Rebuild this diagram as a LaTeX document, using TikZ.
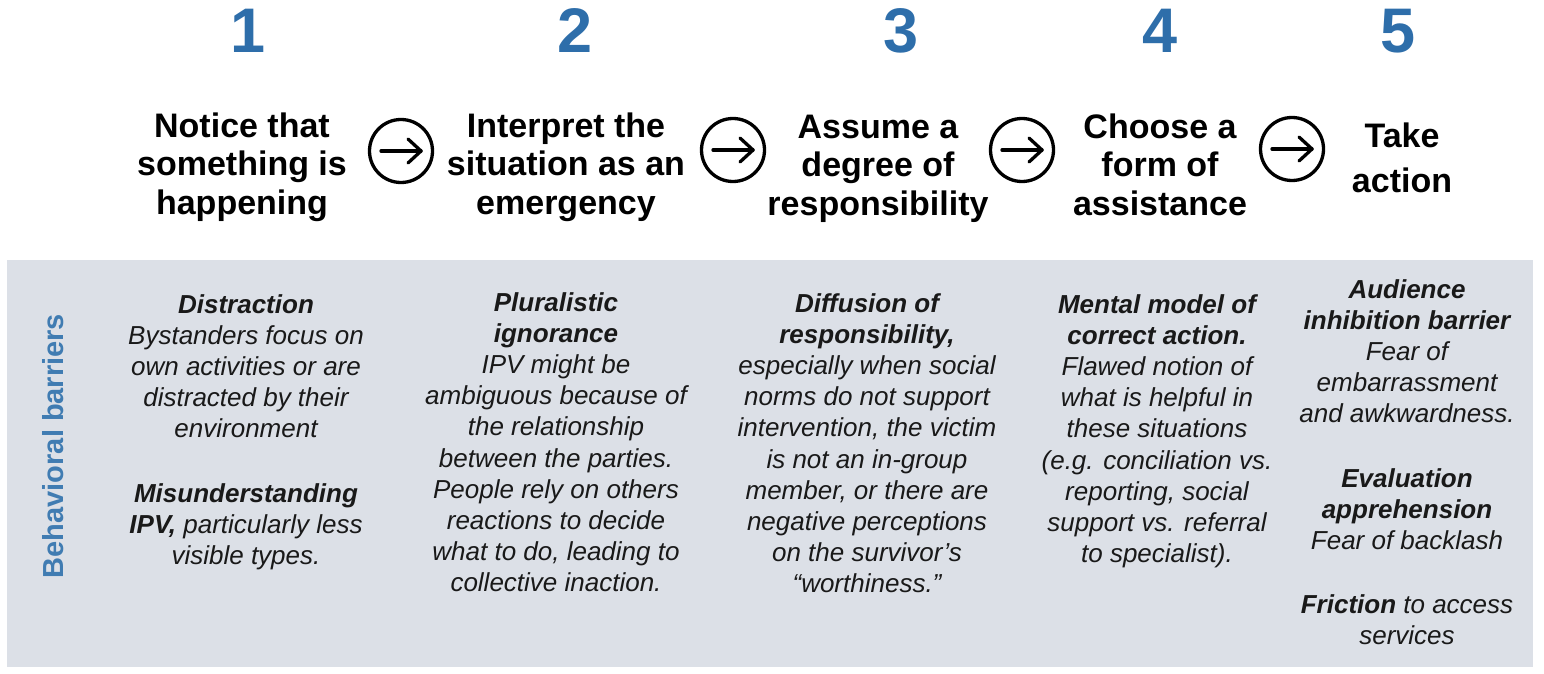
\documentclass[tikz,border=0pt]{standalone}
\usepackage{fontspec}
\setmainfont{Liberation Sans}
\definecolor{numblue}{RGB}{46,110,170}
\definecolor{lblblue}{RGB}{64,124,178}
\definecolor{panel}{RGB}{220,224,231}
\definecolor{bodytext}{RGB}{25,25,25}
\begin{document}
\begin{tikzpicture}[x=1pt,y=-1pt,
  num/.style={anchor=base,inner sep=0pt,text=numblue,font=\fontsize{63}{70}\selectfont\bfseries},
  head/.style={anchor=north,inner sep=0pt,align=center,text=black,font=\fontsize{34}{38.5}\selectfont\bfseries},
  body/.style={anchor=north,inner sep=0pt,align=center,text=bodytext,font=\fontsize{26}{31.2}\selectfont\itshape},
  flow/.style={circle,draw=black,line width=3.3pt,minimum size=63pt,inner sep=0pt},
  flowarrow/.style={line width=3.3pt,line cap=round,line join=round}
]
\useasboundingbox (0,0) rectangle (1544,674);
\fill[panel] (7,260) rectangle (1533,667);
\node[rotate=90,anchor=base,inner sep=0pt,text=lblblue,font=\fontsize{29}{34}\selectfont\bfseries] (lbl) at (63,446) {Behavioral barriers};

% numbers
\node[num] (n1) at (248,53) {1};
\node[num] (n2) at (575,53) {2};
\node[num] (n3) at (901,53) {3};
\node[num] (n4) at (1160,53) {4};
\node[num] (n5) at (1398,53) {5};

% headers (first baseline at top + 0.7*baselineskip)
\node[head] (h1) at (242,110) {\strut Notice that\\something is\\happening};
\node[head] (h2) at (566,110) {\strut Interpret the\\situation as an\\emergency};
\node[head] (h3) at (878,111) {\strut Assume a\\degree of\\responsibility};
\node[head] (h4) at (1160,111) {\strut Choose a\\form of\\assistance};
\node[head] (h5) at (1402,120) {\strut Take\\[7pt]action};

% circled arrows
\foreach \nm/\xx/\yy in {c1/401/151, c2/733/150, c3/1022/150, c4/1292/149}{
  \node[flow] (\nm) at (\xx,\yy) {};
  \draw[flowarrow] ([xshift=-20pt]\nm.center) -- ([xshift=20pt]\nm.center);
  \draw[flowarrow] ([shift={(7,-12)}]\nm.center) -- ([xshift=20pt]\nm.center) -- ([shift={(7,12)}]\nm.center);
}

% body texts
\node[body] (b1) at (246,291) {\strut\textbf{Distraction}\\Bystanders focus on\\own activities or are\\distracted by their\\environment\\[33pt]\textbf{Misunderstanding}\\\textbf{IPV,} particularly less\\visible types.};
\node[body] (b2) at (556,289) {\strut\textbf{Pluralistic}\\\textbf{ignorance}\\IPV might be\\ambiguous because of\\the relationship\\between the parties.\\People rely on others\\reactions to decide\\what to do, leading to\\collective inaction.};
\node[body] (b3) at (867,290) {\strut\textbf{Diffusion of}\\\textbf{responsibility,}\\especially when social\\norms do not support\\intervention, the victim\\is not an in-group\\member, or there are\\negative perceptions\\on the survivor’s\\“worthiness.”};
\node[body] (b4) at (1157,291) {\strut\textbf{Mental model of}\\\textbf{correct action.}\\Flawed notion of\\what is helpful in\\these situations\\(e.g. conciliation vs.\\reporting, social\\support vs. referral\\to specialist).};
\node[body] (b5) at (1407,276) {\strut\textbf{Audience}\\\textbf{inhibition barrier}\\Fear of\\embarrassment\\and awkwardness.\\[33pt]\textbf{Evaluation}\\\textbf{apprehension}\\Fear of backlash\\[33pt]\textbf{Friction} to access\\services};
\end{tikzpicture}
\end{document}
